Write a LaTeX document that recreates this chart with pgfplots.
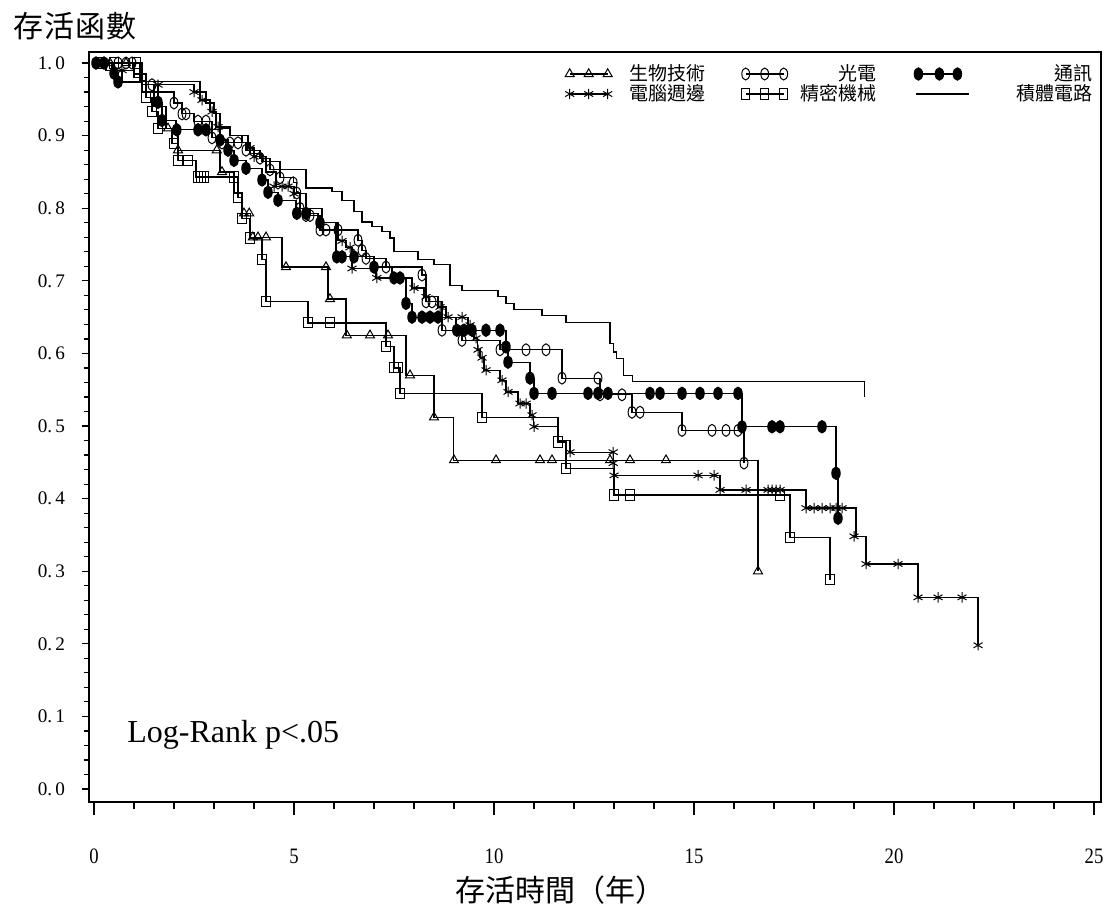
\documentclass[border=0pt]{standalone}
\usepackage{fontspec}
\setmainfont{Liberation Serif}
\newfontfamily\cjk{Noto Sans CJK TC}
\newfontfamily\cjkwide[LetterSpace=4]{Noto Sans CJK TC}
\usepackage{graphicx}
\usepackage{pgfplots}
\pgfplotsset{compat=1.18}

% step lines (Kaplan-Meier), censor marks kept separately
\pgfplotsset{
  km/.style={const plot, black, line width=0.6pt, no marks, forget plot},
  cens/.style={only marks, black, mark options={solid, line width=0.5pt}},
  leg3/.style={legend image code/.code={
      \draw[black,line width=0.6pt] (2.5pt,0pt) -- (21.5pt,0pt);
      \draw[##1] plot coordinates {(2.5pt,0pt) (12pt,0pt) (21.5pt,0pt)};
      \path[draw=none,fill=none] (0pt,-5pt) rectangle (23.5pt,5pt);}},
  leg3w/.style={legend image code/.code={
      \draw[black,line width=0.6pt] (3pt,0pt) -- (22.5pt,0pt);
      \draw[##1] plot coordinates {(3pt,0pt) (13.5pt,0pt) (22.5pt,0pt)};
      \path[draw=none,fill=none] (0pt,-5pt) rectangle (28.5pt,5pt);}},
  legline/.style={legend image code/.code={
      \draw[black,line width=0.6pt] (2pt,0pt) -- (28.5pt,0pt);
      \path[draw=none,fill=none] (0pt,-5pt) rectangle (28.5pt,5pt);}},
}

\begin{document}
\begin{tikzpicture}
\begin{axis}[
  scale only axis, width=506pt, height=375pt, clip=false,
  xmin=-0.125, xmax=25.175, ymin=-0.0179, ymax=1.0152,
  xtick={0,5,10,15,20,25}, minor x tick num=4,
  ytick={0,0.1,0.2,0.3,0.4,0.5,0.6,0.7,0.8,0.9,1.0}, minor y tick num=4,
  tick align=outside, xtick pos=bottom, ytick pos=left,
  axis line style={line width=0.6pt},
  tick style={black, line width=0.6pt},
  xtick style={/pgfplots/major tick length=6.5pt, /pgfplots/minor tick length=3.5pt},
  ytick style={/pgfplots/major tick length=3.5pt, /pgfplots/minor tick length=2.5pt},
  /pgf/number format/assume math mode=true,
  xticklabel={\scalebox{0.85}[1]{\fontsize{11}{13}\selectfont\pgfmathprintnumber{\tick}}},
  yticklabel={\fontsize{9.6}{11}\selectfont\pgfmathprintnumber[fixed,fixed zerofill,precision=1,dec sep={.\,}]{\tick}},
  xticklabel style={anchor=north, inner sep=0pt, yshift=-19pt},
  yticklabel style={anchor=east, inner sep=0pt, xshift=-7.5pt},
  legend columns=3,
  legend style={at={(rel axis cs:1,1)}, anchor=north east, xshift=-4.5pt, yshift=-6pt,
    draw=none, fill=none, inner sep=0pt, outer sep=0pt,
    font=\fontsize{9.5}{11}\selectfont, nodes={inner sep=0pt},
    /tikz/column sep=0pt, /tikz/row sep=0pt,
    /tikz/every even column/.append style={column sep=17.75pt}},
  legend cell align=left,
  after end axis/.code={\draw[line width=1.1pt] (rel axis cs:0,0) -- (rel axis cs:1,0);},
]

% ---- 生物技術 (triangles)
\addplot[km] coordinates {(0,1.0) (1.2,0.97) (1.5,0.94) (1.8,0.91) (2.1,0.88) (3.15,0.85) (3.5,0.82) (3.7,0.793) (3.92,0.76) (4.7,0.719) (5.85,0.675) (6.3,0.625) (7.8,0.57) (8.5,0.512) (8.98,0.453) (16.6,0.30)};
\addplot[cens, mark=triangle, mark size=2.6pt, leg3] coordinates {(0.4,1) (0.8,1) (1.85,0.91) (2.1,0.88) (3.07,0.88) (3.2,0.85) (3.75,0.793) (3.88,0.793) (3.97,0.76) (4.1,0.76) (4.3,0.76) (4.8,0.719) (5.8,0.719) (5.9,0.675) (6.32,0.625) (6.9,0.625) (7.35,0.625) (7.9,0.57) (8.5,0.512) (9.0,0.453) (10.05,0.453) (11.15,0.453) (11.45,0.453) (12.9,0.453) (13.4,0.453) (14.3,0.453) (16.6,0.30)};
\addlegendentry{\makebox[46.5pt][r]{\cjk 生物技術\rule[-2pt]{0pt}{10pt}}}

% ---- 光電 (open ellipses)
\addplot[km] coordinates {(0,1) (1.0,0.985) (1.3,0.97) (1.6,0.96) (2.0,0.945) (2.2,0.93) (2.5,0.92) (2.95,0.897) (3.2,0.89) (3.8,0.88) (4.15,0.869) (4.4,0.853) (4.65,0.842) (4.98,0.835) (5.07,0.821) (5.15,0.80) (5.4,0.79) (5.65,0.77) (6.6,0.756) (6.7,0.742) (6.8,0.731) (7.3,0.719) (8.2,0.708) (8.3,0.671) (8.7,0.632) (9.2,0.618) (10.15,0.605) (11.7,0.566) (12.65,0.543) (13.45,0.519) (14.7,0.494) (16.25,0.449)};
\addplot[cens, mark=o, mark size=3pt, mark options={solid, line width=0.5pt, xscale=0.65}, leg3] coordinates {(0.6,1) (0.8,1) (0.95,1) (1.45,0.97) (2.0,0.945) (2.2,0.93) (2.3,0.93) (2.6,0.92) (2.8,0.92) (2.95,0.897) (3.2,0.89) (3.4,0.89) (3.6,0.89) (3.8,0.88) (4.15,0.869) (4.4,0.853) (4.65,0.842) (4.98,0.835) (5.07,0.821) (5.15,0.80) (5.3,0.79) (5.4,0.79) (5.65,0.77) (5.8,0.77) (6.1,0.77) (6.6,0.756) (6.7,0.742) (6.8,0.731) (7.3,0.719) (8.2,0.708) (8.3,0.671) (8.45,0.671) (8.7,0.632) (9.2,0.618) (10.15,0.605) (10.8,0.605) (11.3,0.605) (11.7,0.566) (12.6,0.566) (12.65,0.543) (13.2,0.543) (13.45,0.519) (13.65,0.519) (14.7,0.494) (15.45,0.494) (15.8,0.494) (16.1,0.494) (16.25,0.449)};
\addlegendentry{\makebox[44.5pt][r]{\cjk 光電\rule[-2pt]{0pt}{10pt}}}

% ---- 通訊 (filled ellipses)
\addplot[km] coordinates {(0,1) (0.45,0.986) (0.6,0.974) (1.2,0.96) (1.6,0.946) (1.7,0.921) (2.05,0.908) (3.15,0.894) (3.35,0.88) (3.5,0.866) (3.8,0.855) (4.2,0.839) (4.35,0.822) (4.6,0.811) (5.05,0.793) (5.6,0.78) (6.05,0.733) (7.0,0.719) (7.45,0.704) (7.8,0.669) (7.95,0.65) (9.05,0.632) (10.3,0.609) (10.35,0.588) (10.9,0.566) (11.0,0.545) (16.2,0.499) (18.55,0.435) (18.6,0.373)};
\addplot[cens, mark=*, mark size=3.1pt, mark options={solid, line width=0.5pt, xscale=0.68}, leg3w] coordinates {(0.05,1) (0.25,1) (0.5,0.986) (0.6,0.974) (1.6,0.946) (1.7,0.921) (2.07,0.908) (2.6,0.908) (2.8,0.908) (3.15,0.894) (3.35,0.88) (3.5,0.866) (3.8,0.855) (4.2,0.839) (4.35,0.822) (4.6,0.811) (5.07,0.793) (5.3,0.793) (5.65,0.78) (6.07,0.733) (6.2,0.733) (6.5,0.733) (7.0,0.719) (7.5,0.704) (7.65,0.704) (7.8,0.669) (7.95,0.65) (8.2,0.65) (8.4,0.65) (8.6,0.65) (9.07,0.632) (9.25,0.632) (9.45,0.632) (9.8,0.632) (10.15,0.632) (10.3,0.609) (10.35,0.588) (10.9,0.566) (11.0,0.545) (11.45,0.545) (12.35,0.545) (12.6,0.545) (12.85,0.545) (13.9,0.545) (14.15,0.545) (14.7,0.545) (15.15,0.545) (15.6,0.545) (16.1,0.545) (16.2,0.499) (16.95,0.499) (17.15,0.499) (18.2,0.499) (18.55,0.435) (18.6,0.373)};
\addlegendentry{\makebox[61pt][r]{\cjk 通訊\rule[-2pt]{0pt}{10pt}}}

% ---- 電腦週邊 (asterisks)
\addplot[km] coordinates {(0,1) (0.5,0.99) (1.0,0.98) (1.2,0.97) (2.5,0.96) (2.65,0.949) (2.9,0.933) (3.05,0.912) (3.4,0.9) (3.85,0.883) (4.0,0.871) (4.3,0.85) (4.55,0.83) (5.0,0.82) (5.3,0.80) (5.7,0.78) (6.1,0.755) (6.3,0.746) (6.45,0.717) (7.05,0.704) (7.95,0.69) (8.25,0.678) (8.6,0.664) (8.8,0.65) (9.35,0.639) (9.5,0.621) (9.58,0.605) (9.65,0.594) (9.75,0.577) (10.15,0.563) (10.3,0.547) (10.6,0.531) (10.9,0.515) (10.98,0.499) (11.6,0.48) (11.9,0.464) (12.98,0.449) (13.02,0.432) (15.65,0.412) (17.8,0.387) (19.05,0.348) (19.3,0.31) (20.6,0.264) (22.1,0.198)};
\addplot[cens, mark=asterisk, mark size=2.6pt, leg3] coordinates {(0.3,1) (0.7,0.99) (1.6,0.97) (2.5,0.96) (2.7,0.949) (2.95,0.933) (3.1,0.912) (3.9,0.883) (4.0,0.871) (4.5,0.83) (4.7,0.83) (4.85,0.83) (5.0,0.82) (6.2,0.755) (6.4,0.746) (6.45,0.717) (7.07,0.704) (8.0,0.69) (8.3,0.678) (8.65,0.664) (8.85,0.65) (9.2,0.65) (9.4,0.639) (9.55,0.621) (9.6,0.605) (9.7,0.594) (9.8,0.577) (10.2,0.563) (10.35,0.547) (10.65,0.531) (10.8,0.531) (10.95,0.515) (11.0,0.499) (11.9,0.464) (12.98,0.464) (12.98,0.449) (13.0,0.432) (15.1,0.432) (15.5,0.432) (15.65,0.412) (16.3,0.412) (16.85,0.412) (16.95,0.412) (17.05,0.412) (17.15,0.412) (17.8,0.387) (18.0,0.387) (18.2,0.387) (18.4,0.387) (18.55,0.387) (18.7,0.387) (19.0,0.348) (19.3,0.31) (20.1,0.31) (20.6,0.264) (21.1,0.264) (21.7,0.264) (22.1,0.198)};
\addlegendentry{\makebox[46.5pt][r]{\cjk 電腦週邊\rule[-2pt]{0pt}{10pt}}}

% ---- 精密機械 (squares)
\addplot[km] coordinates {(0,1) (1.15,0.976) (1.3,0.953) (1.45,0.933) (1.6,0.91) (1.95,0.889) (2.1,0.866) (2.55,0.843) (3.6,0.815) (3.7,0.786) (3.9,0.759) (4.2,0.729) (4.3,0.671) (5.35,0.642) (7.3,0.609) (7.5,0.58) (7.65,0.545) (9.7,0.512) (11.6,0.478) (11.8,0.442) (13.0,0.405) (17.4,0.347) (18.4,0.288)};
\addplot[cens, mark=square, mark size=2.1pt, mark options={solid, line width=0.5pt, yscale=1.2}, leg3] coordinates {(0.15,1) (0.5,1) (1.07,1) (1.3,0.953) (1.45,0.933) (1.6,0.91) (2.0,0.889) (2.1,0.866) (2.35,0.866) (2.6,0.843) (2.67,0.843) (2.75,0.843) (3.5,0.843) (3.6,0.815) (3.7,0.786) (3.9,0.759) (4.2,0.729) (4.3,0.671) (5.35,0.642) (5.9,0.642) (7.3,0.609) (7.5,0.58) (7.6,0.58) (7.65,0.545) (9.7,0.512) (11.6,0.478) (11.8,0.442) (13.0,0.405) (13.4,0.405) (17.15,0.405) (17.4,0.347) (18.4,0.288)};
\addlegendentry{\makebox[44.5pt][r]{\cjk 精密機械\rule[-2pt]{0pt}{10pt}}}

% ---- 積體電路 (plain line)
\addplot[const plot, black, line width=0.6pt, no marks, legline] coordinates {(0,1) (0.3,0.99) (0.7,0.975) (2.65,0.96) (2.8,0.945) (3.0,0.93) (3.15,0.91) (3.4,0.9) (3.7,0.89) (3.9,0.875) (4.2,0.864) (4.65,0.853) (5.3,0.828) (5.95,0.823) (6.2,0.811) (6.5,0.795) (6.7,0.781) (6.95,0.775) (7.2,0.768) (7.4,0.759) (7.5,0.74) (8.1,0.729) (8.5,0.722) (8.9,0.694) (9.2,0.687) (10.1,0.678) (10.3,0.669) (10.5,0.66) (11.2,0.652) (11.8,0.643) (12.9,0.614) (12.98,0.602) (13.07,0.593) (13.23,0.57) (13.47,0.561) (19.27,0.54)};
\addlegendentry{\makebox[61pt][r]{\cjk 積體電路\rule[-2pt]{0pt}{10pt}}}

\node[anchor=base west, inner sep=0pt, font=\fontsize{16}{18}\selectfont] at (axis cs:0.825,0.0634) {Log-Rank p<.05};
\end{axis}
\node[anchor=west, inner sep=0pt, font=\fontsize{15}{17}\selectfont] at ([shift={(-38pt,13pt)}]current axis.north west) {\cjkwide 存活函數};
\node[anchor=center, inner sep=0pt, font=\fontsize{15}{17}\selectfont] at ([shift={(-17.5pt,-44pt)}]current axis.south) {\cjk 存活時間（年）};
\pgfresetboundingbox
\path[use as bounding box] ([shift={(-44.5pt,-52.5pt)}]current axis.south west) rectangle ([shift={(3pt,26pt)}]current axis.north east);
\end{tikzpicture}
\end{document}
